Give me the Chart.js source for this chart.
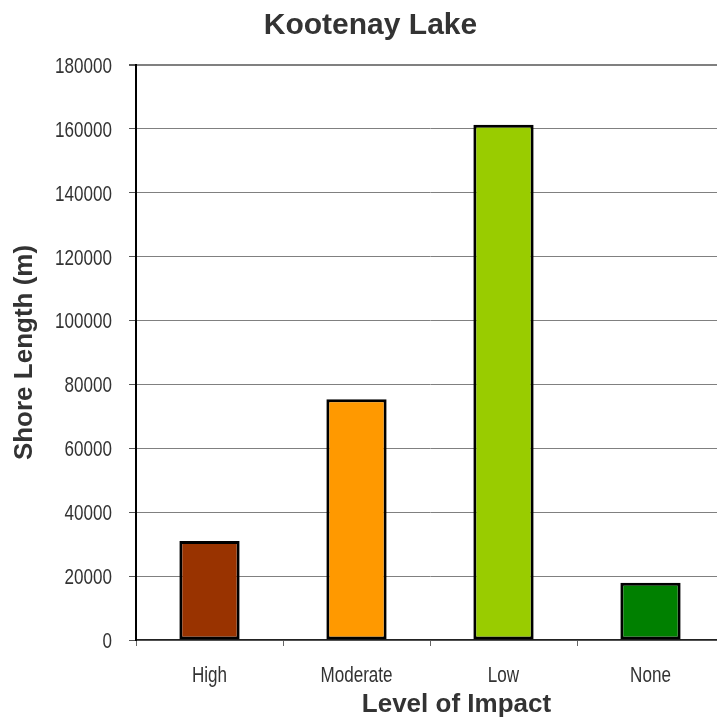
<!DOCTYPE html>
<html>
<head>
<meta charset="utf-8">
<script src="https://cdn.jsdelivr.net/npm/chart.js@4/dist/chart.umd.min.js"></script>
<style>
  html, body { margin: 0; padding: 0; background: #fff; overflow: hidden; }
  #wrap { width: 741px; height: 717px; }
</style>
</head>
<body>
<div id="wrap"><canvas id="c" width="741" height="717"></canvas></div>
<script>
const chartTitle = 'Kootenay Lake';
const xAxisTitle = 'Level of Impact';
const yAxisTitle = 'Shore Length (m)';
const categories = ['High', 'Moderate', 'Low', 'None'];
const shoreLength = [31000, 75400, 161300, 17900];
const barColors = ['#993300', '#FF9900', '#99CC00', '#008000'];

const regFamily = "'Liberation Sans', Arial, sans-serif";
const boldFamily = "'Liberation Sans', Arial, sans-serif";
const tickFont = { family: regFamily, size: 17 };
const labelSize = 22;      // glyph height of the tick labels
const labelSqueeze = 0.775; // the reference text is horizontally condensed
const labelColor = '#333';

// Tick labels are laid out by Chart.js (transparent), then painted condensed
const condensedTicks = {
  id: 'condensedTicks',
  afterDraw(chart) {
    const { ctx } = chart;
    const capHalf = labelSize * 0.716 / 2;
    ctx.save();
    ctx.font = labelSize + 'px ' + regFamily;
    ctx.fillStyle = labelColor;
    ctx.textBaseline = 'alphabetic';

    const ys = chart.scales.y;
    const yPad = ys.options.ticks.padding + ys.options.grid.tickLength;
    ys.ticks.forEach((t, i) => {
      const py = ys.getPixelForTick(i);
      ctx.save();
      ctx.translate(ys.right - yPad, py + capHalf);
      ctx.scale(labelSqueeze, 1);
      ctx.textAlign = 'right';
      ctx.fillText(String(t.value), 0, 0);
      ctx.restore();
    });

    const xs = chart.scales.x;
    const xTop = xs.top + xs.options.grid.tickLength + xs.options.ticks.padding;
    xs.ticks.forEach((t, i) => {
      const px = xs.getPixelForTick(i);
      ctx.save();
      ctx.translate(px, xTop + capHalf * 2);
      ctx.scale(labelSqueeze, 1);
      ctx.textAlign = 'center';
      ctx.fillText(String(xs.getLabelForValue(t.value)), 0, 0);
      ctx.restore();
    });

    // x axis title
    ctx.font = 'bold 26px ' + boldFamily;
    ctx.textAlign = 'center';
    const ca = chart.chartArea;
    ctx.fillText(xAxisTitle, ca.left + (ca.right - ca.left) * 0.545, ca.bottom + 72);
    ctx.restore();
  }
};

new Chart(document.getElementById('c'), {
  type: 'bar',
  data: {
    labels: categories,
    datasets: [{
      data: shoreLength,
      backgroundColor: barColors,
      borderColor: '#000',
      borderWidth: 3,
      borderSkipped: false,
      barPercentage: 0.41,
      categoryPercentage: 1.0
    }]
  },
  options: {
    responsive: false,
    animation: false,
    layout: { padding: { left: 17, right: 17, top: 0, bottom: 0 } },
    plugins: {
      legend: { display: false },
      tooltip: { enabled: false },
      title: {
        display: true,
        text: chartTitle,
        color: '#333',
        font: { family: boldFamily, size: 30, weight: 'bold' },
        padding: { top: 8, bottom: 21 }
      }
    },
    scales: {
      x: {
        type: 'category',
        offset: true,
        afterFit(scale) { scale.height = 77; },
        grid: {
          display: true,
          offset: true,
          drawOnChartArea: false,
          drawTicks: true,
          tickLength: 6,
          color: '#666',
          lineWidth: 1
        },
        border: { display: true, color: '#222', width: 1.5 },
        ticks: { font: tickFont, color: 'rgba(0,0,0,0)', padding: 20, maxRotation: 0 }
      },
      y: {
        min: 0,
        max: 180000,
        afterFit(scale) { scale.width = 119; },
        grid: {
          color: '#808080',
          lineWidth: (c) => (c.tick && c.tick.value === 180000 ? 2 : 1),
          drawTicks: true,
          tickLength: 7,
          tickColor: '#555'
        },
        border: { display: true, color: '#000', width: 2 },
        ticks: {
          stepSize: 20000,
          font: tickFont,
          color: 'rgba(0,0,0,0)',
          padding: 17,
          callback: (v) => String(v)
        },
        title: {
          display: true,
          text: yAxisTitle,
          color: '#333',
          font: { family: boldFamily, size: 26, weight: 'bold' },
          padding: { top: -8, bottom: 0 }
        }
      }
    }
  },
  plugins: [condensedTicks]
});
</script>
</body>
</html>
